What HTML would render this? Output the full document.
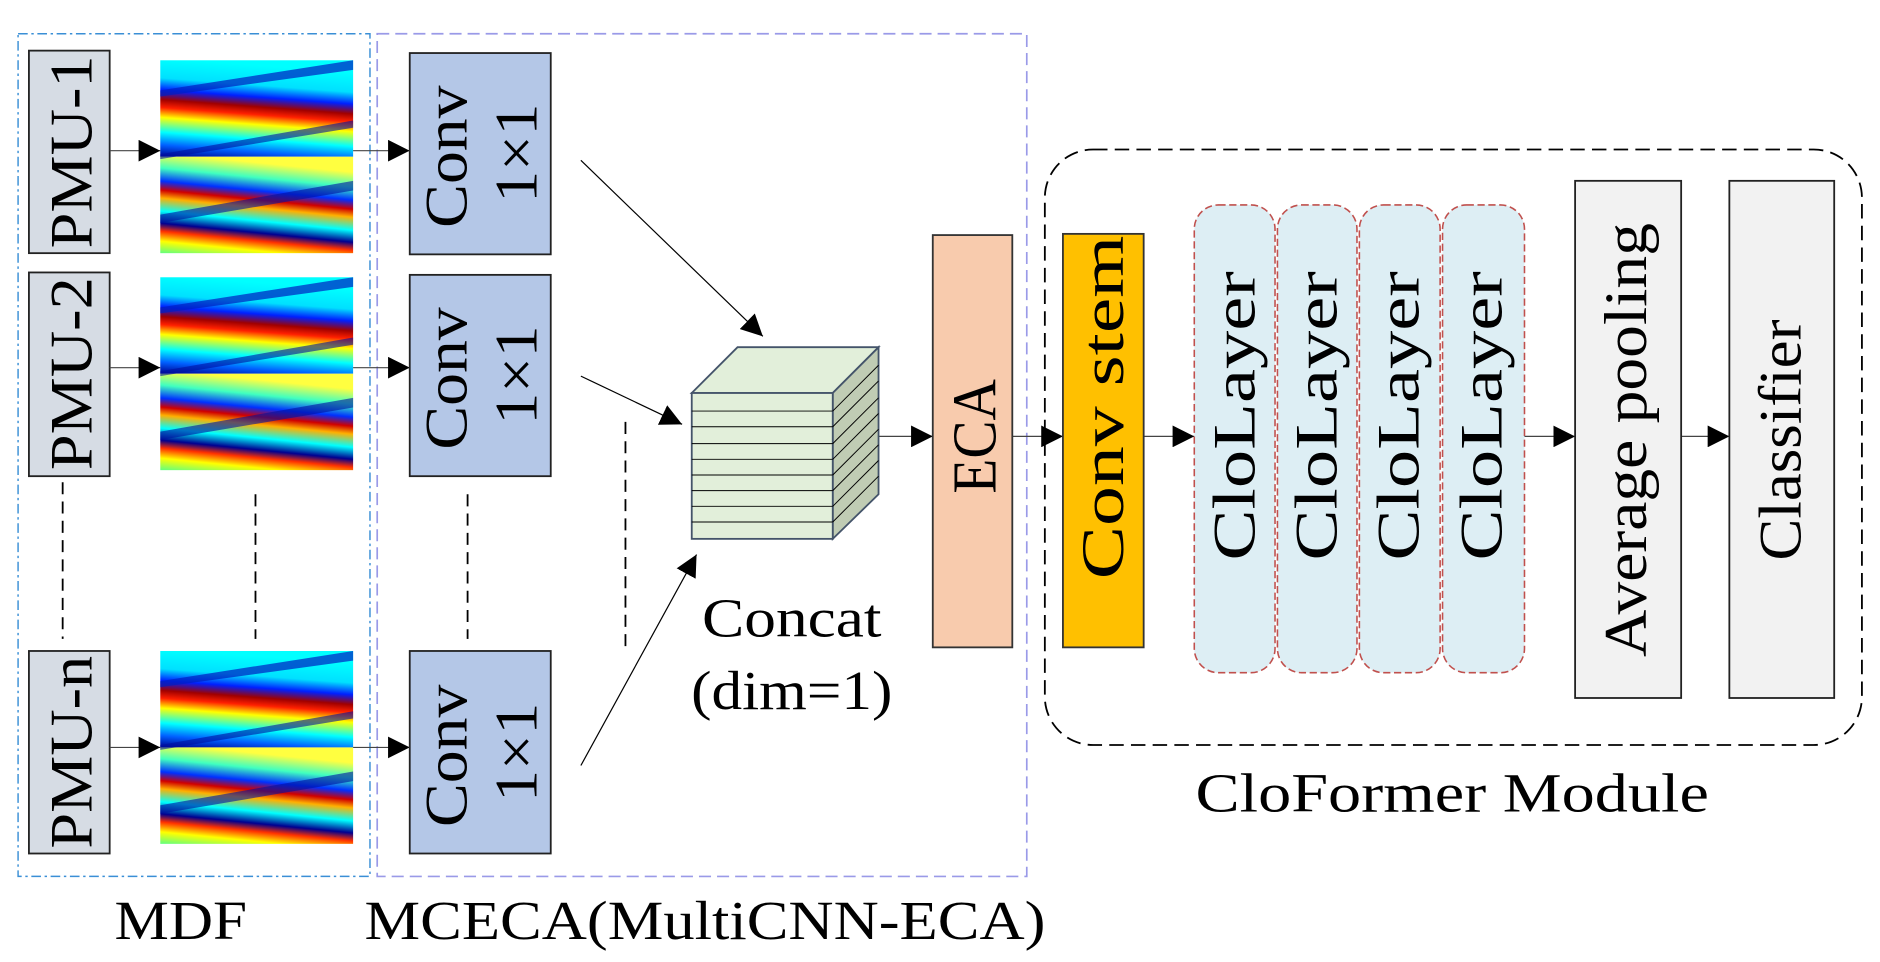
<!DOCTYPE html>
<html><head><meta charset="utf-8"><style>
html,body{margin:0;padding:0;background:#fff;}
svg{display:block;}
text{font-family:"Liberation Serif",serif;fill:#000;}
</style></head><body>
<svg width="1880" height="962" viewBox="0 0 1560 798" preserveAspectRatio="none" xmlns="http://www.w3.org/2000/svg">
<defs>
<marker id="ar" viewBox="0 0 10 10" refX="10" refY="5" markerWidth="18" markerHeight="18" markerUnits="userSpaceOnUse" orient="auto"><path d="M0,0L10,5L0,10z" fill="#000"/></marker>
<linearGradient id="hA" x1="0" y1="1" x2="0.15" y2="0" gradientUnits="objectBoundingBox">
<stop offset="0" stop-color="#00008f"/><stop offset="0.12" stop-color="#0060ff"/><stop offset="0.25" stop-color="#00ffff"/><stop offset="0.4" stop-color="#ffff00"/><stop offset="0.5" stop-color="#ff2000"/><stop offset="0.58" stop-color="#a00000"/><stop offset="0.68" stop-color="#0020ff"/><stop offset="0.8" stop-color="#00e0ff"/><stop offset="1" stop-color="#00ffff"/>
</linearGradient>
<linearGradient id="hB" x1="0" y1="1" x2="0.2" y2="0" gradientUnits="objectBoundingBox">
<stop offset="0" stop-color="#60ff80"/><stop offset="0.12" stop-color="#ffff00"/><stop offset="0.22" stop-color="#ff3000"/><stop offset="0.3" stop-color="#000090"/><stop offset="0.42" stop-color="#00ffff"/><stop offset="0.55" stop-color="#ffb000"/><stop offset="0.63" stop-color="#d00000"/><stop offset="0.72" stop-color="#0030ff"/><stop offset="0.85" stop-color="#40ffc0"/><stop offset="1" stop-color="#ffff40"/>
</linearGradient>
<g id="heat">
<rect x="0" y="0" width="160" height="80" fill="url(#hA)"/>
<rect x="0" y="80" width="160" height="80" fill="url(#hB)"/>
<path d="M0,25 L160,0 L160,8 L0,30z" fill="#0020c0" opacity="0.7"/>
<path d="M0,78 L160,50 L160,56 L0,82z" fill="#0010a0" opacity="0.6"/>
<path d="M0,128 L160,100 L160,108 L0,135z" fill="#0010a0" opacity="0.6"/>
</g>
</defs>

<rect x="15" y="28" width="292" height="699" fill="none" stroke="#3a8fd6" stroke-width="1.2" stroke-dasharray="8,3,2,3"/>
<rect x="313" y="28" width="539" height="699" fill="none" stroke="#9a9ae8" stroke-width="1.4" stroke-dasharray="10,5"/>
<rect x="867" y="124" width="678" height="494" rx="40" fill="none" stroke="#000" stroke-width="1.5" stroke-dasharray="12,6"/>

<g fill="#d6dce4" stroke="#222" stroke-width="1.5">
<rect x="24" y="42" width="67" height="168"/><rect x="24" y="226" width="67" height="169"/><rect x="24" y="540" width="67" height="168"/>
</g>
<g font-size="50">
<text transform="translate(76,126) rotate(-90)" text-anchor="middle" textLength="160" lengthAdjust="spacingAndGlyphs">PMU-1</text>
<text transform="translate(76,310) rotate(-90)" text-anchor="middle" textLength="160" lengthAdjust="spacingAndGlyphs">PMU-2</text>
<text transform="translate(76,624) rotate(-90)" text-anchor="middle" textLength="160" lengthAdjust="spacingAndGlyphs">PMU-n</text>
</g>

<use href="#heat" x="133" y="50"/>
<use href="#heat" x="133" y="230"/>
<use href="#heat" x="133" y="540"/>

<g fill="#b4c7e7" stroke="#222" stroke-width="1.5">
<rect x="340" y="44" width="117" height="167"/><rect x="340" y="228" width="117" height="167"/><rect x="340" y="540" width="117" height="168"/>
</g>
<g font-size="50" text-anchor="middle" lengthAdjust="spacingAndGlyphs">
<text transform="translate(387,130) rotate(-90)" textLength="118" lengthAdjust="spacingAndGlyphs">Conv</text><text transform="translate(445,127) rotate(-90)" textLength="82" lengthAdjust="spacingAndGlyphs">1×1</text>
<text transform="translate(387,314) rotate(-90)" textLength="118" lengthAdjust="spacingAndGlyphs">Conv</text><text transform="translate(445,311) rotate(-90)" textLength="82" lengthAdjust="spacingAndGlyphs">1×1</text>
<text transform="translate(387,627) rotate(-90)" textLength="118" lengthAdjust="spacingAndGlyphs">Conv</text><text transform="translate(445,624) rotate(-90)" textLength="82" lengthAdjust="spacingAndGlyphs">1×1</text>
</g>

<g stroke="#444" stroke-width="1" marker-end="url(#ar)" fill="none">
<line x1="91" y1="125" x2="133" y2="125"/><line x1="91" y1="305" x2="133" y2="305"/><line x1="91" y1="620" x2="133" y2="620"/>
<line x1="293" y1="125" x2="340" y2="125"/><line x1="293" y1="305" x2="340" y2="305"/><line x1="293" y1="620" x2="340" y2="620"/>
<line x1="482" y1="133" x2="633" y2="279" stroke="#000"/>
<line x1="482" y1="312" x2="566" y2="352" stroke="#000"/>
<line x1="482" y1="635" x2="578" y2="460" stroke="#000"/>
<line x1="691" y1="362" x2="774" y2="362"/>
<line x1="840" y1="362" x2="882" y2="362"/>
<line x1="949" y1="362" x2="991" y2="362"/>
<line x1="1265" y1="362" x2="1307" y2="362"/>
<line x1="1395" y1="362" x2="1435" y2="362"/>
</g>

<g stroke="#000" stroke-width="1.5" stroke-dasharray="10,6">
<line x1="52" y1="400" x2="52" y2="530"/><line x1="212" y1="410" x2="212" y2="530"/>
<line x1="388" y1="410" x2="388" y2="530"/><line x1="519" y1="350" x2="519" y2="540"/>
</g>

<path d="M574,326 L612,288 L729,288 L691,326z" fill="#e2efda" stroke="#44546a" stroke-width="1.5"/>
<path d="M691,326 L729,288 L729,410 L691,447z" fill="#c0ccb4" stroke="#44546a" stroke-width="1.5"/>
<rect x="574" y="326" width="117" height="121" fill="#e2efda" stroke="#44546a" stroke-width="1.5"/>
<g stroke="#000" stroke-width="0.8">
<line x1="574" y1="341" x2="691" y2="341"/><line x1="574" y1="354" x2="691" y2="354"/><line x1="574" y1="368" x2="691" y2="368"/><line x1="574" y1="381" x2="691" y2="381"/><line x1="574" y1="394" x2="691" y2="394"/><line x1="574" y1="407" x2="691" y2="407"/><line x1="574" y1="420" x2="691" y2="420"/><line x1="574" y1="433" x2="691" y2="433"/>
<line x1="691" y1="341" x2="729" y2="303"/><line x1="691" y1="354" x2="729" y2="316"/><line x1="691" y1="368" x2="729" y2="330"/><line x1="691" y1="381" x2="729" y2="343"/><line x1="691" y1="394" x2="729" y2="356"/><line x1="691" y1="407" x2="729" y2="369"/><line x1="691" y1="420" x2="729" y2="382"/><line x1="691" y1="433" x2="729" y2="395"/>
</g>
<text x="657" y="528" font-size="46" text-anchor="middle" textLength="149" lengthAdjust="spacingAndGlyphs">Concat</text>
<text x="657" y="588" font-size="46" text-anchor="middle" textLength="167" lengthAdjust="spacingAndGlyphs">(dim=1)</text>

<rect x="774" y="195" width="66" height="342" fill="#f8cbad" stroke="#333" stroke-width="1.5"/>
<text transform="translate(826,362) rotate(-90)" font-size="52" text-anchor="middle" textLength="95" lengthAdjust="spacingAndGlyphs">ECA</text>

<rect x="882" y="194" width="67" height="343" fill="#ffc000" stroke="#333" stroke-width="1.5"/>
<text transform="translate(932,338) rotate(-90)" font-size="50" text-anchor="middle" textLength="285" lengthAdjust="spacingAndGlyphs">Conv stem</text>

<g fill="#ddeef4" stroke="#c0504d" stroke-width="1.3" stroke-dasharray="6,3">
<rect x="991" y="170" width="67" height="388" rx="20"/><rect x="1060" y="170" width="66" height="388" rx="20"/><rect x="1128" y="170" width="67" height="388" rx="20"/><rect x="1197" y="170" width="68" height="388" rx="20"/>
</g>
<g font-size="50" text-anchor="middle">
<text transform="translate(1041,345) rotate(-90)" textLength="240" lengthAdjust="spacingAndGlyphs">CloLayer</text>
<text transform="translate(1109,345) rotate(-90)" textLength="240" lengthAdjust="spacingAndGlyphs">CloLayer</text>
<text transform="translate(1177,345) rotate(-90)" textLength="240" lengthAdjust="spacingAndGlyphs">CloLayer</text>
<text transform="translate(1246,345) rotate(-90)" textLength="240" lengthAdjust="spacingAndGlyphs">CloLayer</text>
</g>

<rect x="1307" y="150" width="88" height="429" fill="#f2f2f2" stroke="#222" stroke-width="1.5"/>
<text transform="translate(1366,365) rotate(-90)" font-size="50" text-anchor="middle" textLength="360" lengthAdjust="spacingAndGlyphs">Average pooling</text>
<rect x="1435" y="150" width="87" height="429" fill="#f2f2f2" stroke="#222" stroke-width="1.5"/>
<text transform="translate(1494,365) rotate(-90)" font-size="50" text-anchor="middle" textLength="200" lengthAdjust="spacingAndGlyphs">Classifier</text>

<text x="150" y="779" font-size="46" text-anchor="middle" textLength="110" lengthAdjust="spacingAndGlyphs">MDF</text>
<text x="585" y="779" font-size="46" text-anchor="middle" textLength="565" lengthAdjust="spacingAndGlyphs">MCECA(MultiCNN-ECA)</text>
<text x="1205" y="673" font-size="46" text-anchor="middle" textLength="426" lengthAdjust="spacingAndGlyphs">CloFormer  Module</text>
</svg>
</body></html>
